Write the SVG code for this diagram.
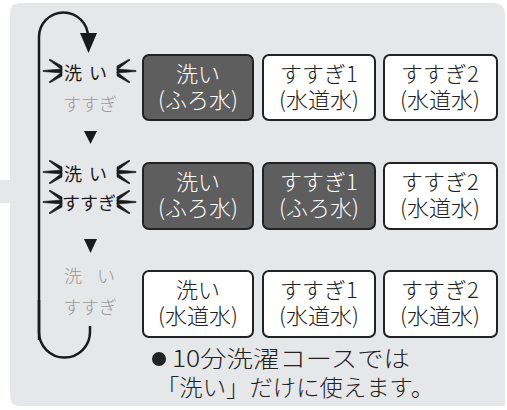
<svg xmlns="http://www.w3.org/2000/svg" width="507" height="410" viewBox="0 0 507 410">
<style>
text{font-family:"Noto Sans CJK JP","Noto Sans",sans-serif;font-weight:300;}
.lbl{font-size:18px;fill:#1a1a1a;font-weight:400;}
.off{fill:#9a9a9a;font-weight:300;}
.box{stroke:#222;stroke-width:2;}
.dark{fill:#5e5e5e;}
.lite{fill:#ffffff;}
.bt{font-size:22px;text-anchor:middle;}
.bt.w{fill:#ffffff;}
.bt.k{fill:#222;}
.sp{fill:#1a1a1a;stroke:#1a1a1a;stroke-width:0.6;stroke-linejoin:round;}
.note{font-size:23px;fill:#222;}
</style>
<defs>
<g id="spL" class="sp"><polygon points="-13,-11 -12,-11.8 0,-5 0,-1"/><polygon points="-19,-0.5 -19,0.5 0,2 0,-2"/><polygon points="-13,11 -12,11.8 0,5 0,1"/></g>
<g id="spR" class="sp"><polygon points="13,-11 12,-11.8 0,-5 0,-1"/><polygon points="19,-0.5 19,0.5 0,2 0,-2"/><polygon points="13,11 12,11.8 0,5 0,1"/></g>
</defs>
<g id="panel">
<path d="M20,3 H493 Q505,3 505,15 V406 H20 Q10,406 10,396 V203 H0 V180 H10 V13 Q10,3 20,3 Z" fill="#e6e7e9"/>
</g>
<g id="connectors">
<path d="M39,340 V37 A24.5,24.5 0 0 1 88,37 V36" fill="none" stroke="#1a1a1a" stroke-width="2.5"/>
<polygon points="80,33 97,33 88.5,53" fill="#1a1a1a"/>
<path d="M39,300 V332 A25.5,25.5 0 0 0 90,332 V326" fill="none" stroke="#1a1a1a" stroke-width="2.5"/>
<polygon points="84,131 97,131 90.5,144" fill="#1a1a1a"/>
<polygon points="84,239 97,239 90.5,253" fill="#1a1a1a"/>
</g>
<g id="step1-label">
<use href="#spL" x="62" y="71"/>
<text class="lbl" x="64" y="80">洗</text>
<text class="lbl" x="89" y="80">い</text>
<use href="#spR" x="117" y="71"/>
<text class="lbl off" x="90" y="111" text-anchor="middle">すすぎ</text>
</g>
<g id="step2-label">
<use href="#spL" x="62" y="172"/>
<text class="lbl" x="64" y="181">洗</text>
<text class="lbl" x="89" y="181">い</text>
<use href="#spR" x="117" y="172"/>
<use href="#spL" x="62" y="202"/>
<text class="lbl" x="89" y="210" text-anchor="middle">すすぎ</text>
<use href="#spR" x="117" y="202"/>
</g>
<g id="step3-label">
<text class="lbl off" x="64" y="283">洗</text>
<text class="lbl off" x="97" y="283">い</text>
<text class="lbl off" x="90" y="314" text-anchor="middle">すすぎ</text>
</g>
<g id="r1c1"><rect class="box dark" x="143" y="55" width="110" height="65" rx="6"/><text class="bt w" x="198" y="82">洗い</text><text class="bt w" x="198" y="108">(ふろ水)</text></g>
<g id="r1c2"><rect class="box lite" x="263" y="55" width="112" height="65" rx="6"/><text class="bt k" x="319" y="82">すすぎ1</text><text class="bt k" x="319" y="108">(水道水)</text></g>
<g id="r1c3"><rect class="box lite" x="384" y="55" width="113" height="65" rx="6"/><text class="bt k" x="440" y="82">すすぎ2</text><text class="bt k" x="440" y="108">(水道水)</text></g>
<g id="r2c1"><rect class="box dark" x="143" y="163" width="110" height="66" rx="6"/><text class="bt w" x="198" y="190">洗い</text><text class="bt w" x="198" y="216">(ふろ水)</text></g>
<g id="r2c2"><rect class="box dark" x="263" y="163" width="112" height="66" rx="6"/><text class="bt w" x="319" y="190">すすぎ1</text><text class="bt w" x="319" y="216">(ふろ水)</text></g>
<g id="r2c3"><rect class="box lite" x="384" y="163" width="113" height="66" rx="6"/><text class="bt k" x="440" y="190">すすぎ2</text><text class="bt k" x="440" y="216">(水道水)</text></g>
<g id="r3c1"><rect class="box lite" x="143" y="271" width="110" height="66" rx="6"/><text class="bt k" x="198" y="298">洗い</text><text class="bt k" x="198" y="324">(水道水)</text></g>
<g id="r3c2"><rect class="box lite" x="263" y="271" width="112" height="66" rx="6"/><text class="bt k" x="319" y="298">すすぎ1</text><text class="bt k" x="319" y="324">(水道水)</text></g>
<g id="r3c3"><rect class="box lite" x="384" y="271" width="113" height="66" rx="6"/><text class="bt k" x="440" y="298">すすぎ2</text><text class="bt k" x="440" y="324">(水道水)</text></g>
<g id="note">
<circle cx="159" cy="359" r="7" fill="#222"/>
<text class="note" x="172" y="367" textLength="238" lengthAdjust="spacingAndGlyphs">10分洗濯コースでは</text>
<text class="note" x="156" y="396" textLength="278" lengthAdjust="spacingAndGlyphs">「洗い」だけに使えます。</text>
</g>
</svg>
